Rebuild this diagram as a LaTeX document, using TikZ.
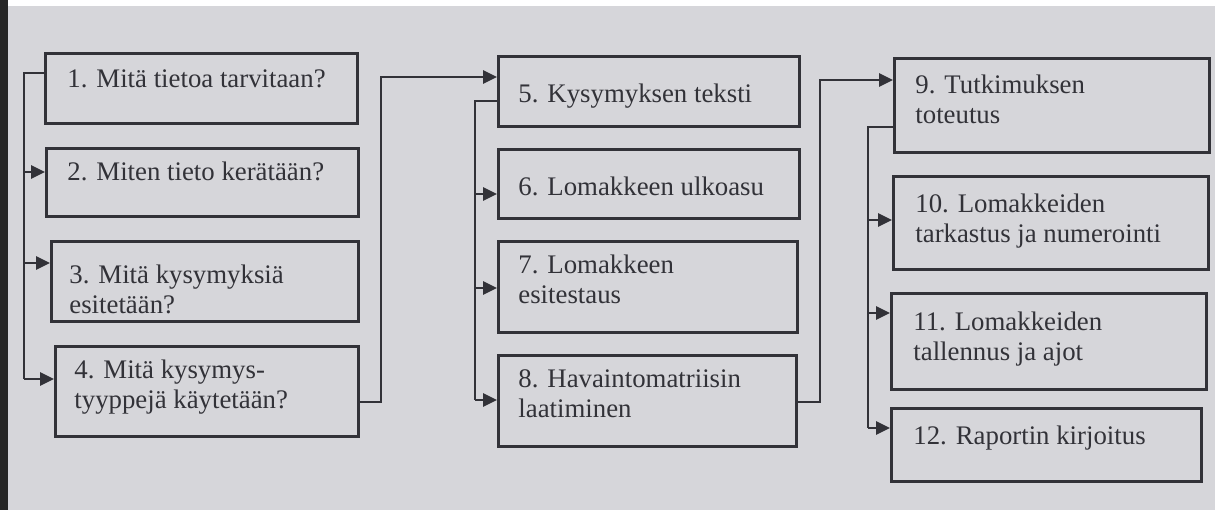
\documentclass[tikz,border=0pt]{standalone}
\usepackage{fontspec}
\setmainfont{Liberation Serif}
\usetikzlibrary{arrows.meta,calc}
\definecolor{paper}{RGB}{214,214,218}
\definecolor{ink}{RGB}{50,50,56}
\tikzset{
  x=0.5pt, y=-0.5pt,
  box/.style={draw=ink, line width=1.4pt, fill=paper, rectangle, inner sep=0pt},
  txt/.style={anchor=base west, inner sep=0pt, text=ink, font=\fontsize{13.4}{15}\selectfont},
  conn/.style={draw=ink, line width=1.4pt},
  arr/.style={conn, -{Triangle[length=7pt,width=6.5pt]}},
}
\newcommand{\bx}[5]{\node[box, minimum width=#4*0.5pt-#2*0.5pt, minimum height=#5*0.5pt-#3*0.5pt, anchor=north west] (#1) at (#2,#3) {};}
\newcommand{\twol}[2]{\vtop{\baselineskip=15pt\hbox{#1}\hbox{#2}}}
\begin{document}
\begin{tikzpicture}
\useasboundingbox (0,0) rectangle (1215,510);
\fill[paper] (0,0) rectangle (1215,510);
\fill[white] (8,0) rectangle (1215,6);
\fill[black!85] (0,0) rectangle (8,510);

% column 1
\bx{b1}{44}{52}{356}{122}
\bx{b2}{45}{147}{357}{215}
\bx{b3}{50}{240}{357}{320}
\bx{b4}{54}{345}{357}{435}
% column 2
\bx{b5}{497}{55}{798}{125}
\bx{b6}{497}{148}{798}{217}
\bx{b7}{497}{240}{796}{331}
\bx{b8}{497}{354}{795}{445}
% column 3
\bx{b9}{893}{57}{1208}{151}
\bx{b10}{892}{175}{1207}{268}
\bx{b11}{890}{292}{1205}{388}
\bx{b12}{890}{407}{1200}{480}

% texts
\node[txt] (t1) at (67,87) {1. Mitä tietoa tarvitaan?};
\node[txt] (t2) at (67,180) {2. Miten tieto kerätään?};
\node[txt] (t3) at (69,283) {\twol{3. Mitä kysymyksiä}{esitetään?}};
\node[txt] (t4) at (74,378) {\twol{4. Mitä kysymys-}{tyyppejä käytetään?}};
\node[txt] (t5) at (518,102) {5. Kysymyksen teksti};
\node[txt] (t6) at (518,195) {6. Lomakkeen ulkoasu};
\node[txt] (t7) at (518,273) {\twol{7. Lomakkeen}{esitestaus}};
\node[txt] (t8) at (518,387) {\twol{8. Havaintomatriisin}{laatiminen}};
\node[txt] (t9) at (915,93) {\twol{9. Tutkimuksen}{toteutus}};
\node[txt] (t10) at (915,212) {\twol{10. Lomakkeiden}{tarkastus ja numerointi}};
\node[txt] (t11) at (913,330) {\twol{11. Lomakkeiden}{tallennus ja ajot}};
\node[txt] (t12) at (913,444) {12. Raportin kirjoitus};

% connectors column 1
\coordinate (c1a) at (44,73);
\coordinate (c1t) at (24,73);
\coordinate (c1b) at (24,172);
\coordinate (c1c) at (24,263);
\coordinate (c1d) at (24,379);
\draw[conn] (c1a) -- (c1t) -- (c1d);
\draw[arr] (c1b) -- (b2.west |- c1b);
\draw[arr] (c1c) -- (b3.west |- c1c);
\draw[arr] (c1d) -- (b4.west |- c1d);

% 4 -> 5
\coordinate (c45a) at (357,402);
\coordinate (c45b) at (381,402);
\coordinate (c45c) at (381,77);
\draw[arr] (c45a) -- (c45b) -- (c45c) -- (b5.west |- c45c);

% connectors column 2
\coordinate (c2a) at (497,101);
\coordinate (c2t) at (475,101);
\coordinate (c2b) at (475,194);
\coordinate (c2c) at (475,288);
\coordinate (c2d) at (475,400);
\draw[conn] (c2a) -- (c2t) -- (c2d);
\draw[arr] (c2b) -- (b6.west |- c2b);
\draw[arr] (c2c) -- (b7.west |- c2c);
\draw[arr] (c2d) -- (b8.west |- c2d);

% 8 -> 9
\coordinate (c89a) at (795,402);
\coordinate (c89b) at (820,402);
\coordinate (c89c) at (820,80);
\draw[arr] (c89a) -- (c89b) -- (c89c) -- (b9.west |- c89c);

% connectors column 3
\coordinate (c3a) at (893,127);
\coordinate (c3t) at (868,127);
\coordinate (c3b) at (868,220);
\coordinate (c3c) at (868,313);
\coordinate (c3d) at (868,428);
\draw[conn] (c3a) -- (c3t) -- (c3d);
\draw[arr] (c3b) -- (b10.west |- c3b);
\draw[arr] (c3c) -- (b11.west |- c3c);
\draw[arr] (c3d) -- (b12.west |- c3d);
\end{tikzpicture}
\end{document}
